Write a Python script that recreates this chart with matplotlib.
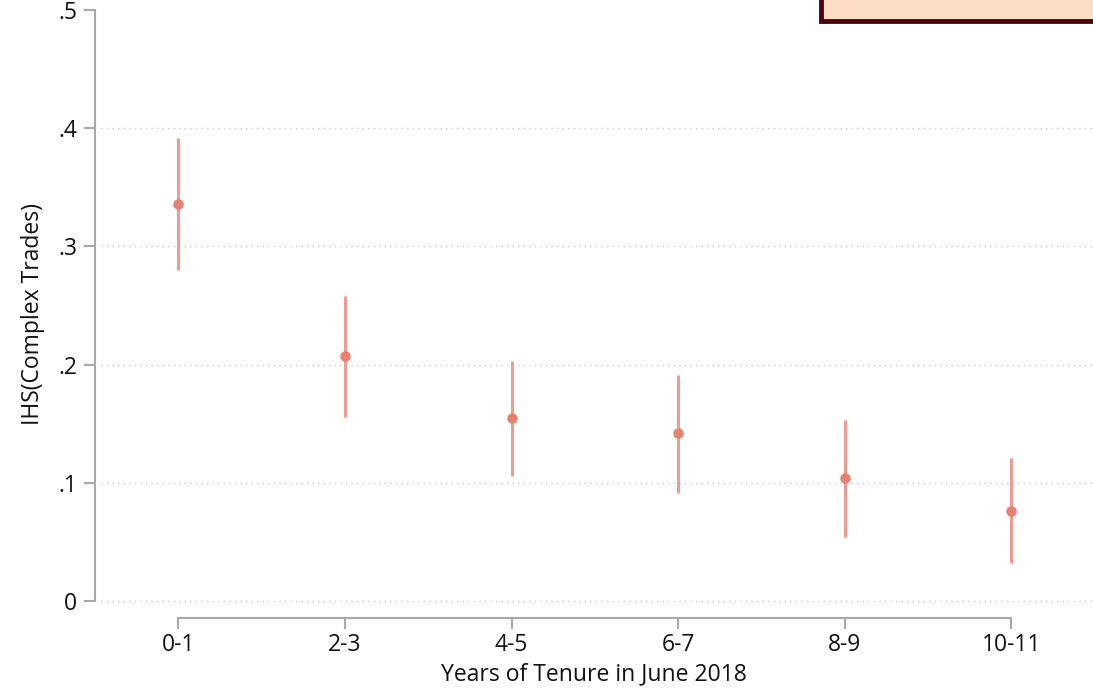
import numpy as np
import matplotlib.pyplot as plt
from matplotlib.patches import Rectangle

plt.rcParams['font.family'] = ['Open Sans', 'DejaVu Sans']

# Data
groups = ['0-1', '2-3', '4-5', '6-7', '8-9', '10-11']
coef = [0.336, 0.207, 0.155, 0.142, 0.104, 0.076]
ci_low = [0.280, 0.156, 0.106, 0.091, 0.054, 0.032]
ci_high = [0.392, 0.258, 0.203, 0.191, 0.153, 0.121]
yticks = [0, 0.1, 0.2, 0.3, 0.4, 0.5]
ytick_labels = ['0', '.1', '.2', '.3', '.4', '.5']
grid_levels = [0, 0.1, 0.2, 0.3, 0.4]

fig = plt.figure(figsize=(10.93, 6.88), dpi=100)
ax = fig.add_axes([95 / 1093, 1 - 618 / 688, 1 - 95 / 1093, (618 - 10) / 688])

x = np.arange(len(groups))
coef = np.array(coef)
yerr = [coef - np.array(ci_low), np.array(ci_high) - coef]

ax.errorbar(x, coef, yerr=yerr, fmt='none', ecolor='#f19a92', elinewidth=2.2, capsize=0, zorder=3)
ax.plot(x, coef, 'o', color='#e8806f', markersize=6.5, zorder=4)

for yv in grid_levels:
    ax.axhline(yv, xmin=0.006, color='#c8c8c8', linestyle=(0, (1, 3)), linewidth=1, zorder=1)

ymin = -0.0144
ax.set_xlim(-0.5, 5.49)
ax.set_ylim(ymin, 0.5)

axis_col = '#a8a8a8'
ax.set_xticks(x)
ax.set_xticklabels(groups, fontsize=16.5)
ax.set_yticks(yticks)
ax.set_yticklabels(ytick_labels, fontsize=16.5)
ax.tick_params(axis='both', color=axis_col, width=1.5, length=8, labelcolor='#111111')
ax.tick_params(axis='x', pad=3)
ax.tick_params(axis='y', pad=5)

ax.set_xlabel('Years of Tenure in June 2018', fontsize=16.5, labelpad=3.5, color='#111111')
ax.set_ylabel('IHS(Complex Trades)', fontsize=16.5, labelpad=9, color='#111111')

# axis lines only span the tick range (Stata style)
for s in ['top', 'right', 'left', 'bottom']:
    ax.spines[s].set_visible(False)
ax.plot([x[0], x[-1]], [ymin, ymin], color=axis_col, linewidth=1.5, clip_on=False,
        solid_capstyle='projecting', zorder=2)
ax.plot([-0.5, -0.5], [yticks[0], yticks[-1]], color=axis_col, linewidth=1.5, clip_on=False,
        solid_capstyle='projecting', zorder=2)

# Partially visible legend box at the top right
box = Rectangle((821 / 1093, 1 - 21 / 688), 0.3, 0.1, transform=fig.transFigure,
                facecolor='#fddcc4', edgecolor='#4a0614', linewidth=3.5, clip_on=False)
fig.patches.append(box)

fig.savefig('out.png', dpi=100)
